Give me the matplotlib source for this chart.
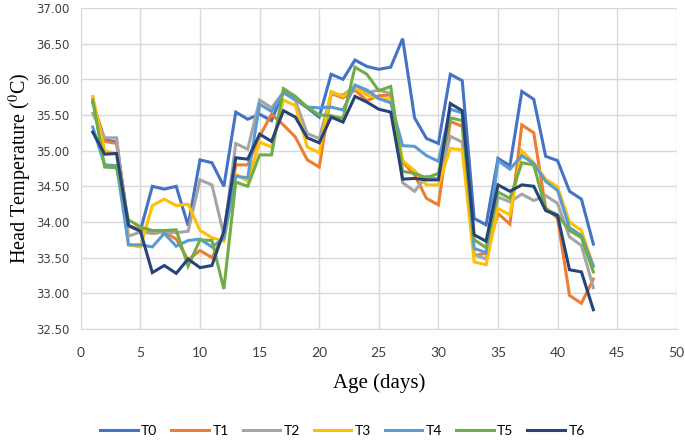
import matplotlib
matplotlib.use("Agg")
import matplotlib.pyplot as plt

plt.rcParams["mathtext.fontset"] = "stix"

days = list(range(1, 44))
series_names = ["T0", "T1", "T2", "T3", "T4", "T5", "T6"]

T0 = [35.67, 35.15, 35.12, 33.95, 33.88, 34.50, 34.46, 34.50, 33.95, 34.87,
      34.83, 34.50, 35.54, 35.44, 35.51, 35.42, 35.83, 35.72, 35.60, 35.47,
      36.07, 36.00, 36.27, 36.18, 36.14, 36.17, 36.57, 35.46, 35.17, 35.10,
      36.07, 35.98, 34.05, 33.96, 34.89, 34.79, 35.83, 35.72, 34.92, 34.86,
      34.43, 34.32, 33.69]
T1 = [35.68, 35.13, 35.10, 33.94, 33.90, 33.84, 33.86, 33.76, 33.47, 33.60,
      33.50, 33.82, 34.80, 34.80, 35.20, 35.51, 35.36, 35.19, 34.87, 34.77,
      35.80, 35.74, 35.85, 35.70, 35.77, 35.78, 34.84, 34.66, 34.33, 34.24,
      35.41, 35.34, 33.53, 33.56, 34.12, 33.97, 35.36, 35.25, 34.20, 34.05,
      32.97, 32.86, 33.20]
T2 = [35.52, 35.18, 35.18, 33.80, 33.86, 33.84, 33.86, 33.85, 33.87, 34.59,
      34.52, 33.82, 35.10, 35.02, 35.71, 35.60, 35.82, 35.70, 35.24, 35.17,
      35.79, 35.78, 35.90, 35.81, 35.85, 35.80, 34.55, 34.43, 34.64, 34.60,
      35.20, 35.12, 33.54, 33.48, 34.35, 34.28, 34.39, 34.30, 34.37, 34.26,
      33.79, 33.67, 33.08]
T3 = [35.76, 35.00, 34.95, 33.68, 33.65, 34.23, 34.32, 34.23, 34.25, 33.88,
      33.78, 33.73, 34.67, 34.57, 35.12, 35.05, 35.71, 35.63, 35.05, 34.97,
      35.83, 35.76, 35.88, 35.78, 35.73, 35.72, 34.86, 34.72, 34.52, 34.52,
      35.03, 35.01, 33.44, 33.40, 34.19, 34.10, 35.00, 34.83, 34.60, 34.49,
      34.00, 33.88, 33.38]
T4 = [35.33, 34.80, 34.79, 33.68, 33.68, 33.65, 33.84, 33.66, 33.74, 33.76,
      33.65, 33.77, 34.64, 34.62, 35.65, 35.55, 35.81, 35.72, 35.61, 35.60,
      35.61, 35.57, 35.92, 35.85, 35.73, 35.67, 35.07, 35.06, 34.93, 34.85,
      35.58, 35.53, 33.63, 33.57, 34.86, 34.74, 34.93, 34.82, 34.57, 34.44,
      33.92, 33.81, 33.38]
T5 = [35.71, 34.77, 34.76, 34.03, 33.93, 33.88, 33.88, 33.89, 33.38, 33.75,
      33.74, 33.06, 34.56, 34.50, 34.94, 34.94, 35.87, 35.76, 35.61, 35.50,
      35.49, 35.45, 36.17, 36.07, 35.84, 35.90, 34.71, 34.68, 34.62, 34.68,
      35.46, 35.42, 33.75, 33.64, 34.42, 34.33, 34.83, 34.80, 34.18, 34.10,
      33.88, 33.78, 33.30]
T6 = [35.26, 34.95, 34.96, 33.95, 33.87, 33.29, 33.39, 33.28, 33.48, 33.36,
      33.39, 33.87, 34.90, 34.88, 35.23, 35.13, 35.56, 35.47, 35.18, 35.11,
      35.47, 35.40, 35.76, 35.68, 35.58, 35.54, 34.60, 34.61, 34.59, 34.59,
      35.66, 35.56, 33.82, 33.73, 34.52, 34.43, 34.52, 34.50, 34.16, 34.09,
      33.33, 33.30, 32.77]

x_ticks = list(range(0, 51, 5))
y_ticks = [32.5 + 0.5 * i for i in range(10)]

colors = ["#4472C4", "#ED7D31", "#A5A5A5", "#FFC000", "#5B9BD5", "#70AD47", "#264478"]
data = [T0, T1, T2, T3, T4, T5, T6]

fig = plt.figure(figsize=(6.85, 4.41), dpi=100)
ax = fig.add_axes([0.118, 0.254, 0.870, 0.728])

for name, vals, c in zip(series_names, data, colors):
    ax.plot(days, vals, color=c, lw=2.2, label=name, solid_joinstyle="miter")

ax.set_xlim(0, 50)
ax.set_ylim(32.5, 37.0)
ax.set_xticks(x_ticks)
ax.set_yticks(y_ticks)
ax.set_xticklabels([str(v) for v in x_ticks], family="Lato", fontsize=10, color="#404040")
ax.set_yticklabels([f"{v:.2f}" for v in y_ticks], family="DejaVu Sans", fontsize=8.5, color="#404040")
ax.tick_params(axis="x", length=0, pad=13)
ax.tick_params(axis="y", length=0, pad=8)
ax.grid(True, color="#D9D9D9", lw=1)
ax.set_axisbelow(True)
for s in ["top", "right"]:
    ax.spines[s].set_visible(False)
for s in ["left", "bottom"]:
    ax.spines[s].set_color("#D9D9D9")

ax.set_xlabel("Age (days)", family="Liberation Serif", fontsize=15, labelpad=10)
ax.set_ylabel("Head Temperature ($^{0}$C)", family="Liberation Serif", fontsize=14.5, labelpad=2)

fig.legend(loc="lower center", bbox_to_anchor=(0.5, -0.02), ncol=7, frameon=False,
           handlelength=2.7, columnspacing=1.0, handletextpad=0.25,
           prop={"family": "Lato", "size": 10})

fig.savefig("out.png", dpi=100)
